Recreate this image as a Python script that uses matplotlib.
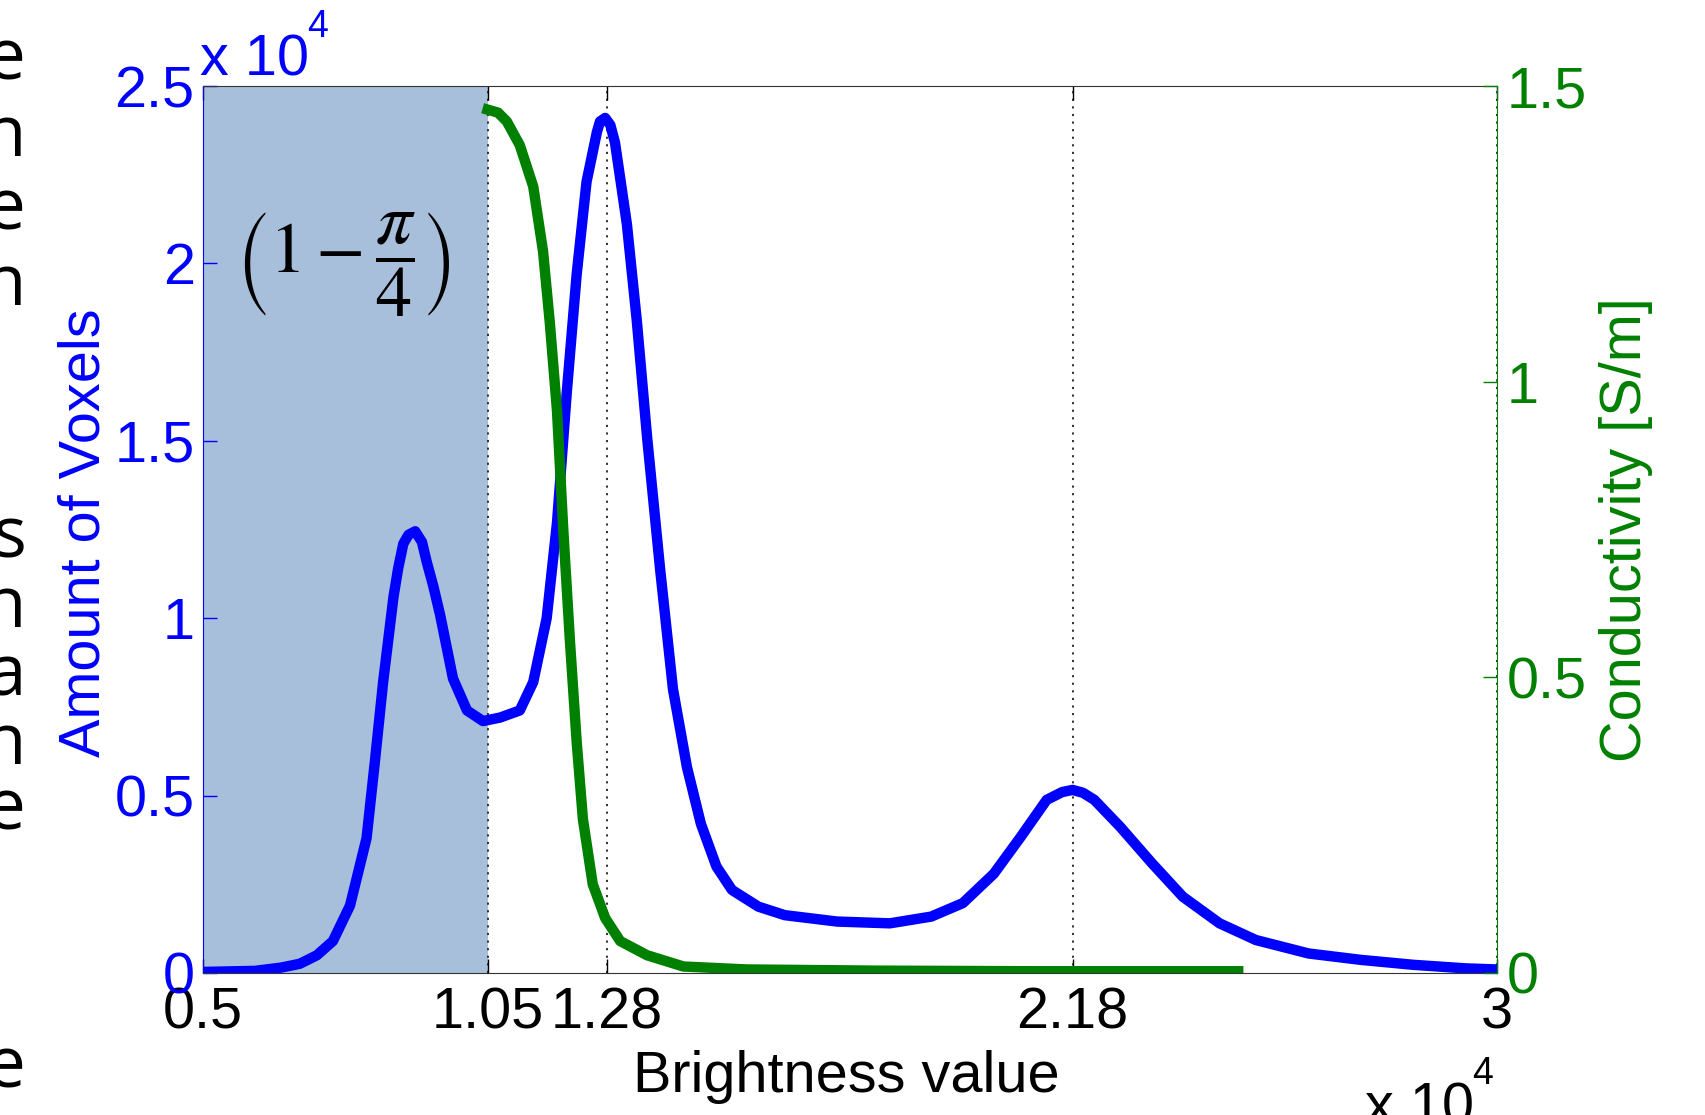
import matplotlib.pyplot as plt

# brightness (x 10^4) vs amount of voxels (x 10^4)
brightness = [0.50, 0.60, 0.65, 0.687, 0.72, 0.751, 0.784, 0.816, 0.832, 0.848, 0.868, 0.877,
              0.887, 0.897, 0.910, 0.923, 0.932, 0.945, 0.958, 0.983, 1.01, 1.041, 1.074,
              1.112, 1.138, 1.164, 1.184, 1.203, 1.222, 1.241, 1.261, 1.267, 1.277, 1.287,
              1.296, 1.319, 1.338, 1.358, 1.383, 1.408, 1.435, 1.462, 1.492, 1.522, 1.573,
              1.624, 1.725, 1.827, 1.907, 1.968, 2.028, 2.08, 2.13, 2.16, 2.18, 2.20, 2.222,
              2.272, 2.333, 2.393, 2.464, 2.534, 2.636, 2.737, 2.839, 2.94, 3.0]
voxels = [0.003, 0.006, 0.015, 0.026, 0.05, 0.09, 0.19, 0.38, 0.595, 0.82, 1.06, 1.14,
          1.21, 1.235, 1.245, 1.215, 1.16, 1.09, 1.01, 0.83, 0.74, 0.71, 0.72,
          0.74, 0.82, 1.0, 1.27, 1.64, 1.97, 2.23, 2.37, 2.40, 2.41, 2.39,
          2.34, 2.11, 1.84, 1.51, 1.14, 0.80, 0.58, 0.42, 0.30, 0.234, 0.187,
          0.163, 0.145, 0.14, 0.159, 0.197, 0.28, 0.384, 0.488, 0.51, 0.516, 0.508, 0.488,
          0.412, 0.31, 0.215, 0.14, 0.093, 0.055, 0.037, 0.023, 0.013, 0.010]

# conductivity curve [S/m]
cond_x = [1.05, 1.07, 1.087, 1.112, 1.138, 1.157, 1.170, 1.184, 1.196, 1.209, 1.222, 1.234,
          1.253, 1.277, 1.306, 1.358, 1.428, 1.55, 1.8, 2.1, 2.5]
cond_y = [1.46, 1.455, 1.44, 1.40, 1.33, 1.22, 1.10, 0.95, 0.75, 0.56, 0.39, 0.26,
          0.15, 0.093, 0.054, 0.03, 0.011, 0.006, 0.004, 0.003, 0.003]

xtick_vals = [0.5, 1.05, 1.28, 2.18, 3]
xtick_labels = ['0.5', '1.05', '1.28', '2.18', '3']
voxel_ticks = [0, 0.5, 1, 1.5, 2, 2.5]
voxel_labels = ['0', '0.5', '1', '1.5', '2', '2.5']
cond_ticks = [0, 0.5, 1, 1.5]
cond_labels = ['0', '0.5', '1', '1.5']

# cut-off letters of the neighbouring text column
side_letters = ['e', 'n', 'e', 'n', 's', 'n', 'a', 'n', 'e', 'e']
side_baselines = [80, 156, 229, 305, 557, 627, 696, 764, 830, 1087]

plt.rcParams['font.family'] = 'Liberation Sans'
plt.rcParams['mathtext.fontset'] = 'stix'

FS = 41.5
W, H = 1706, 1115
fig = plt.figure(figsize=(W / 100, H / 100), dpi=100)
ax = fig.add_axes([203 / W, 1 - 973 / H, 1294 / W, 887 / H])

ax.axvspan(0.5, 1.05, color='#a7bfdb', zorder=0, lw=0)
ax.plot(brightness, voxels, color='blue', lw=7.5, solid_joinstyle='round')
ax.set_xlim(0.5, 3)
ax.set_ylim(0, 2.5)
ax.set_xticks(xtick_vals, xtick_labels)
ax.set_yticks(voxel_ticks, voxel_labels)
ax.grid(axis='x', linestyle=(0, (1.2, 3)), color='#222222', lw=1.3)
ax.tick_params(direction='in', length=10, width=1, labelsize=FS)
ax.tick_params(axis='x', top=True, pad=10)
ax.tick_params(axis='y', colors='blue', right=True, pad=6)
ax.spines['left'].set_color('blue')
ax.spines['right'].set_visible(False)
for s in ['top', 'bottom']:
    ax.spines[s].set_color('#333333')

ax2 = ax.twinx()
ax2.plot(cond_x, cond_y, color='#008000', lw=7.5, solid_joinstyle='round')
ax2.set_ylim(0, 1.5)
ax2.set_yticks(cond_ticks, cond_labels)
ax2.tick_params(axis='y', colors='#008000', direction='in', length=10, width=1,
                labelsize=FS, pad=7)
ax2.spines['right'].set_color('#008000')
for s in ['left', 'top', 'bottom']:
    ax2.spines[s].set_visible(False)

# labels
fig.text(846 / W, 1 - 1092 / H, 'Brightness value', ha='center', va='baseline',
         fontsize=FS)
fig.text(85 / W, 1 - 533 / H, 'Amount of Voxels', rotation=90, ha='center',
         va='center', fontsize=FS, color='blue')
fig.text(1626 / W, 1 - 530 / H, 'Conductivity [S/m]', rotation=90, ha='center',
         va='center', fontsize=FS, color='#008000')

# MATLAB-like exponent labels
fig.text(200 / W, 1 - 75 / H, 'x 10', ha='left', va='baseline', fontsize=FS, color='blue')
fig.text(307 / W, 1 - 37 / H, '4', ha='left', va='baseline', fontsize=27, color='blue')
fig.text(1365 / W, 1 - 1124 / H, 'x 10', ha='left', va='baseline', fontsize=FS)
fig.text(1472 / W, 1 - 1084 / H, '4', ha='left', va='baseline', fontsize=27)

# formula in shaded area
fig.text(343 / W, 1 - 265 / H, r'$\left(1-\dfrac{\pi}{4}\right)$', ha='center',
         va='center', fontsize=52)

for letter, yb in zip(side_letters, side_baselines):
    fig.text(26 / W, 1 - yb / H, letter, ha='right', va='baseline', fontsize=51,
             family='Open Sans')

fig.savefig('out.png', dpi=100)
